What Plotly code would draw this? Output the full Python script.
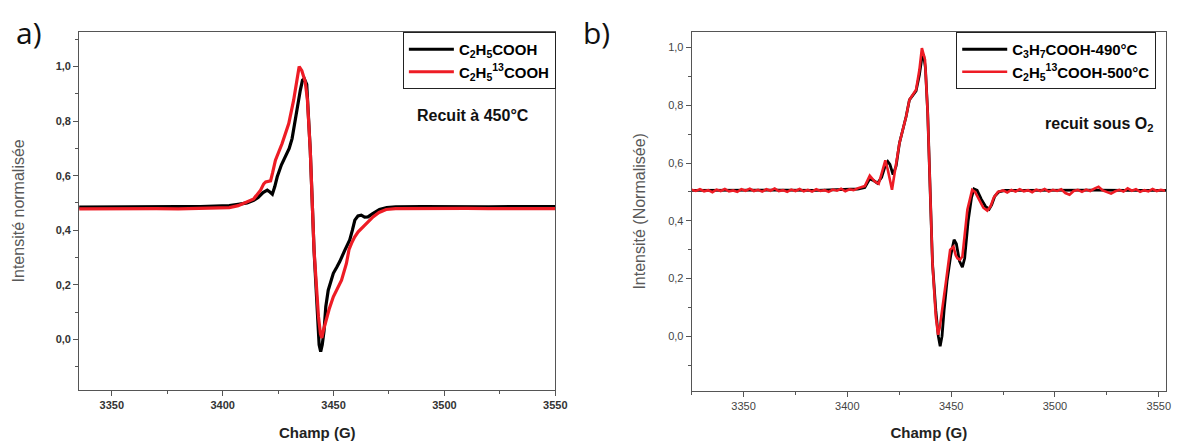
import plotly.graph_objects as go

# ---------------- data ----------------
# Panel a) : black = C2H5COOH, red = C2H5 13COOH
A_BLACK_X = [3335, 3345, 3360, 3370, 3380, 3390, 3398, 3403, 3407, 3411, 3414, 3416,
             3418.2, 3420.1, 3421.3, 3422.4, 3423.5, 3424.6, 3426.5, 3428.3, 3430, 3431.3,
             3432.2, 3432.8, 3434, 3435.0, 3436.0, 3436.8, 3437.9, 3438.8, 3439.5, 3441.2,
             3442.7, 3443.5, 3444.2, 3444.9, 3445.7, 3446.5, 3447.6, 3449.9, 3451.5, 3452.8,
             3455.1, 3457.3, 3458.5, 3459.6, 3461, 3462.5, 3464, 3465.5, 3467.5, 3470.7,
             3474, 3478, 3490, 3500, 3510, 3520, 3530, 3540, 3550]
A_BLACK_Y = [0.485, 0.486, 0.487, 0.488, 0.487, 0.487, 0.488, 0.490, 0.495, 0.500, 0.510, 0.520,
             0.538, 0.547, 0.540, 0.532, 0.560, 0.596, 0.640, 0.669, 0.700, 0.736,
             0.780, 0.815, 0.870, 0.913, 0.950, 0.955, 0.935, 0.800, 0.693, 0.327,
             0.059, -0.020, -0.045, -0.020, 0.030, 0.120, 0.180, 0.242, 0.265, 0.285,
             0.327, 0.364, 0.400, 0.437, 0.452, 0.455, 0.448, 0.449, 0.460, 0.476,
             0.483, 0.486, 0.487, 0.486, 0.487, 0.486, 0.487, 0.486, 0.487]

A_RED_X = [3335, 3350, 3360, 3370, 3380, 3390, 3398, 3403, 3407, 3411.2, 3414, 3417.1,
           3418.5, 3419.4, 3421.6, 3422.5, 3423.8, 3426.8, 3429.8, 3432, 3433.5, 3434.5,
           3435.7, 3437.2, 3438.2, 3439.5, 3441.2, 3443.2, 3444.1, 3444.7, 3445.5, 3446.9,
           3448, 3449.9, 3451.5, 3453.6, 3455.8, 3457, 3458.1, 3459.5, 3461.1, 3463.3,
           3465, 3467.8, 3470.5, 3473.7, 3478, 3490, 3500, 3510, 3520, 3530, 3540, 3550]
A_RED_Y = [0.478, 0.479, 0.478, 0.479, 0.478, 0.479, 0.480, 0.483, 0.490, 0.505, 0.515, 0.547,
           0.570, 0.577, 0.581, 0.610, 0.657, 0.718, 0.791, 0.877, 0.960, 1.000,
           0.985, 0.945, 0.880, 0.693, 0.327, 0.083, 0.020, 0.005, 0.035, 0.083,
           0.110, 0.156, 0.180, 0.217, 0.278, 0.330, 0.352, 0.375, 0.394, 0.412,
           0.425, 0.449, 0.465, 0.476, 0.479, 0.480, 0.479, 0.480, 0.479, 0.480, 0.479, 0.479]

# Panel b) : black = C3H7COOH-490°C, red = C2H5 13COOH-500°C
B_BLACK_X = [3325, 3340, 3355, 3370, 3385, 3400, 3405, 3408.4, 3410.8, 3412.5, 3414.5, 3416.5,
             3418, 3419.5, 3420.5, 3422, 3423.5, 3425.1, 3428.3, 3429.9, 3433.1, 3434.7,
             3435.9, 3436.8, 3437.6, 3438.7, 3439.8, 3441.0, 3442.6, 3443.8, 3444.7, 3445.6,
             3446.6, 3448, 3449.8, 3451.4, 3452.5, 3454, 3455.4, 3456.5, 3458.2, 3459.8,
             3461, 3462.5, 3464.5, 3466.5, 3468.3, 3469.5, 3471, 3473, 3476, 3490, 3505,
             3520, 3535, 3553.5]
B_BLACK_Y = [0.505, 0.506, 0.505, 0.506, 0.505, 0.507, 0.510, 0.515, 0.545, 0.540, 0.530, 0.550,
             0.585, 0.605, 0.595, 0.560, 0.590, 0.669, 0.761, 0.819, 0.850, 0.905,
             0.965, 0.970, 0.930, 0.773, 0.484, 0.253, 0.090, 0.000, -0.035, 0.000,
             0.090, 0.190, 0.280, 0.334, 0.320, 0.260, 0.239, 0.270, 0.400, 0.480,
             0.510, 0.505, 0.475, 0.450, 0.440, 0.455, 0.485, 0.500, 0.505, 0.506, 0.505,
             0.506, 0.505, 0.505]

B_RED_BASE_LEFT_X = [3325, 3327, 3329, 3331, 3333, 3335, 3337, 3339, 3341, 3343, 3345, 3347,
                     3349, 3351, 3353, 3355, 3357, 3359, 3361, 3363, 3365, 3367, 3369, 3371,
                     3373, 3375, 3377, 3379, 3381, 3383, 3385, 3387, 3389, 3391, 3393, 3395,
                     3397, 3399, 3401, 3403]
B_RED_BASE_LEFT_Y = [0.507, 0.503, 0.509, 0.502, 0.506, 0.499, 0.508, 0.503, 0.510, 0.502, 0.505, 0.500,
                     0.509, 0.504, 0.511, 0.503, 0.507, 0.501, 0.509, 0.504, 0.512, 0.503, 0.506, 0.500,
                     0.508, 0.503, 0.510, 0.502, 0.507, 0.501, 0.509, 0.503, 0.506, 0.500, 0.508, 0.504,
                     0.511, 0.502, 0.509, 0.506]
B_RED_PEAK_X = [3405.2, 3408.4, 3410.8, 3413.2, 3415.1, 3417.2, 3418.3, 3419.5, 3420.6, 3421.5,
                3423.0, 3425.1, 3428.3, 3429.9, 3433.1, 3434.7, 3435.9, 3437.4, 3438.7, 3439.8,
                3441.0, 3442.6, 3443.7, 3444.5, 3445.3, 3447.4, 3449.5, 3451.1, 3452.2, 3453.0,
                3454.2, 3455.4, 3457.8, 3460.1, 3461.5, 3463.5, 3465.5, 3467.4, 3469, 3470.5,
                3472.5]
B_RED_PEAK_Y = [0.513, 0.520, 0.556, 0.536, 0.528, 0.576, 0.609, 0.576, 0.530, 0.507,
                0.576, 0.669, 0.761, 0.819, 0.854, 0.923, 0.998, 0.958, 0.773, 0.484,
                0.253, 0.068, 0.005, 0.030, 0.068, 0.184, 0.299, 0.310, 0.280, 0.270,
                0.265, 0.276, 0.438, 0.507, 0.500, 0.470, 0.445, 0.435, 0.450, 0.480,
                0.500]
B_RED_BASE_RIGHT_X = [3475, 3477, 3479, 3481, 3483, 3485, 3487, 3489, 3491, 3493, 3495, 3497,
                      3499, 3501, 3503, 3505, 3507, 3509, 3511, 3513, 3515, 3517, 3519, 3521,
                      3523, 3525, 3527, 3529, 3531, 3533, 3535, 3537, 3539, 3541, 3543, 3545,
                      3547, 3549, 3551, 3553]
B_RED_BASE_RIGHT_Y = [0.505, 0.498, 0.507, 0.501, 0.509, 0.502, 0.506, 0.499, 0.508, 0.503, 0.510, 0.501,
                      0.507, 0.503, 0.509, 0.496, 0.490, 0.503, 0.507, 0.500, 0.508, 0.503, 0.511, 0.518,
                      0.505, 0.499, 0.494, 0.502, 0.507, 0.501, 0.512, 0.504, 0.509, 0.500, 0.506, 0.502,
                      0.510, 0.503, 0.507, 0.504]

X_TICKS = [3350, 3400, 3450, 3500, 3550]
X_TICK_TEXT = ["3350", "3400", "3450", "3500", "3550"]
Y_TICKS = [0.0, 0.2, 0.4, 0.6, 0.8, 1.0]
Y_TICK_TEXT = ["0,0", "0,2", "0,4", "0,6", "0,8", "1,0"]

NAMES_A = ["<b>C<sub>2</sub>H<sub>5</sub>COOH</b>",
           "<b>C<sub>2</sub>H<sub>5</sub><sup>13</sup>COOH</b>"]
NAMES_B = ["<b>C<sub>3</sub>H<sub>7</sub>COOH-490°C</b>",
           "<b>C<sub>2</sub>H<sub>5</sub><sup>13</sup>COOH-500°C</b>"]

BLACK = "#000000"
RED = "#ee1c25"
FONT = "Arial, Liberation Sans, sans-serif"
W, H = 1185, 441

B_RED_X = B_RED_BASE_LEFT_X + B_RED_PEAK_X + B_RED_BASE_RIGHT_X
B_RED_Y = B_RED_BASE_LEFT_Y + B_RED_PEAK_Y + B_RED_BASE_RIGHT_Y

fig = go.Figure()
fig.add_trace(go.Scatter(x=A_BLACK_X, y=A_BLACK_Y, mode="lines", name=NAMES_A[0],
                         line=dict(color=BLACK, width=3.2), xaxis="x", yaxis="y", legend="legend"))
fig.add_trace(go.Scatter(x=A_RED_X, y=A_RED_Y, mode="lines", name=NAMES_A[1],
                         line=dict(color=RED, width=3.2), xaxis="x", yaxis="y", legend="legend"))
fig.add_trace(go.Scatter(x=B_BLACK_X, y=B_BLACK_Y, mode="lines", name=NAMES_B[0],
                         line=dict(color=BLACK, width=2.8), xaxis="x2", yaxis="y2", legend="legend2"))
fig.add_trace(go.Scatter(x=B_RED_X, y=B_RED_Y, mode="lines", name=NAMES_B[1],
                         line=dict(color=RED, width=2.6), xaxis="x2", yaxis="y2", legend="legend2"))


def axis_common(tickfont, minor_dtick):
    return dict(showline=True, linecolor="#555555", linewidth=1, mirror=True,
                ticks="outside", ticklen=5, tickwidth=1, tickcolor="#555555",
                showgrid=False, zeroline=False, tickfont=tickfont,
                minor=dict(ticks="outside", ticklen=3, tickcolor="#555555",
                           tickmode="linear", tick0=0, dtick=minor_dtick))


tf_a = dict(family=FONT, size=11, color="#333333", weight="bold")
tf_b = dict(family=FONT, size=11, color="#444444")
xtitle_font = dict(family=FONT, size=15, color="#222222", weight="bold")
ytitle_font = dict(family=FONT, size=16, color="#595959")

# panel a axes
xa = axis_common(tf_a, 25)
xa.update(domain=[80 / W, 561 / W], range=[3335.3, 3550], anchor="y",
          tickmode="array", tickvals=X_TICKS, ticktext=X_TICK_TEXT,
          title=dict(text="<b>Champ (G)</b>", font=xtitle_font, standoff=17))
ya = axis_common(tf_a, 0.1)
ya.update(domain=[1 - 390 / H, 1 - 31.7 / H], range=[-0.186, 1.128], anchor="x",
          tickmode="array", tickvals=Y_TICKS, ticktext=Y_TICK_TEXT,
          title=dict(text="Intensité normalisée", font=ytitle_font, standoff=27))
# panel b axes
xb = axis_common(tf_b, 25)
xb.update(domain=[698.7 / W, 1178 / W], range=[3325, 3553.5], anchor="y2",
          tickmode="array", tickvals=X_TICKS, ticktext=X_TICK_TEXT,
          title=dict(text="<b>Champ (G)</b>", font=xtitle_font, standoff=17))
yb = axis_common(tf_b, 0.1)
yb.update(domain=[1 - 391 / H, 1 - 31.7 / H], range=[-0.19, 1.055], anchor="x2",
          tickmode="array", tickvals=Y_TICKS, ticktext=Y_TICK_TEXT,
          title=dict(text="Intensité (Normalisée)", font=ytitle_font, standoff=18))

legend_font = dict(family=FONT, size=15, color="#000000")
fig.update_layout(
    width=W, height=H, autosize=False,
    margin=dict(l=0, r=0, t=0, b=0),
    paper_bgcolor="white", plot_bgcolor="white",
    showlegend=True,
    xaxis=xa, yaxis=ya, xaxis2=xb, yaxis2=yb,
    legend=dict(x=407 / W, y=1 - 32 / H, xanchor="left", yanchor="top",
                bordercolor="#222222", borderwidth=1, bgcolor="white",
                font=legend_font, itemwidth=45, tracegroupgap=0),
    legend2=dict(x=966 / W, y=1 - 32 / H, xanchor="left", yanchor="top",
                 bordercolor="#222222", borderwidth=1, bgcolor="white",
                 font=legend_font, itemwidth=45, tracegroupgap=0),
    annotations=[
        dict(text="a)", x=29 / W, y=1 - 33 / H, xref="paper", yref="paper",
             xanchor="center", yanchor="middle", showarrow=False,
             font=dict(family="Open Sans, sans-serif", size=30, color="#111111")),
        dict(text="b)", x=603 / W, y=1 - 33 / H, xref="paper", yref="paper",
             xanchor="center", yanchor="middle", showarrow=False,
             font=dict(family="Open Sans, sans-serif", size=30, color="#111111")),
        dict(text="<b>Recuit à 450°C</b>", x=478 / W, y=1 - 116 / H, xref="paper", yref="paper",
             xanchor="center", yanchor="middle", showarrow=False,
             font=dict(family=FONT, size=16, color="#111111")),
        dict(text="<b>recuit sous O<sub>2</sub></b>", x=1110 / W, y=1 - 124 / H, xref="paper", yref="paper",
             xanchor="center", yanchor="middle", showarrow=False,
             font=dict(family=FONT, size=16, color="#111111")),
    ],
)

fig.write_html("out.html", config={"displayModeBar": False},
               post_script="document.body.style.margin='0px';document.body.style.overflow='hidden';")
